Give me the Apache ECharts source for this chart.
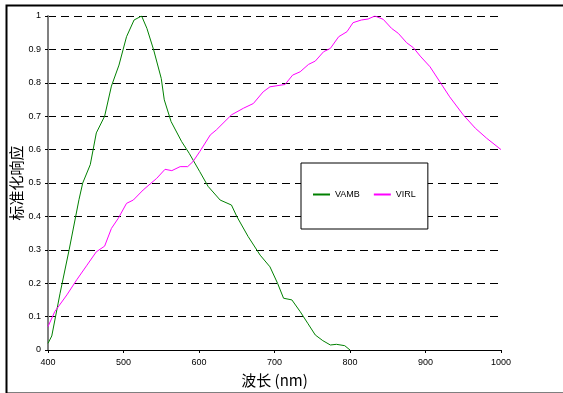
<!DOCTYPE html>
<html>
<head>
<meta charset="utf-8">
<script src="https://cdn.jsdelivr.net/npm/echarts@6/dist/echarts.min.js"></script>
<style>
html,body{margin:0;padding:0;background:#fff;}
#chart{width:563px;height:393px;}
</style>
</head>
<body>
<div id="chart"></div>
<script>
// Wavelength (nm) / normalized response pairs
const vambWavelength = [400, 405, 416, 428, 441, 446, 456, 464, 475, 484, 494, 504, 514, 524, 531, 540, 550, 554, 563, 577, 587, 601, 612, 628, 643, 650, 665, 681, 694, 704, 712, 723, 734, 744, 754, 764, 774, 782, 793, 800];
const vambValues     = [0.02, 0.042, 0.17, 0.30, 0.45, 0.50, 0.555, 0.65, 0.70, 0.79, 0.853, 0.938, 0.988, 1.0, 0.963, 0.898, 0.813, 0.749, 0.684, 0.624, 0.589, 0.534, 0.49, 0.449, 0.434, 0.40, 0.34, 0.284, 0.249, 0.20, 0.155, 0.15, 0.115, 0.08, 0.045, 0.028, 0.015, 0.017, 0.013, 0.0];
const virlWavelength = [400, 409, 425, 438, 451, 464, 475, 484, 493, 504, 513, 526, 544, 555, 564, 575, 585, 592, 601, 615, 623, 643, 659, 672, 685, 694, 714, 724, 734, 745, 754, 765, 774, 785, 796, 804, 815, 824, 833, 844, 855, 864, 875, 884, 893, 906, 919, 932, 950, 966, 981, 1000];
const virlValues     = [0.07, 0.115, 0.165, 0.21, 0.252, 0.294, 0.311, 0.364, 0.394, 0.439, 0.449, 0.479, 0.514, 0.541, 0.537, 0.549, 0.549, 0.564, 0.594, 0.644, 0.659, 0.704, 0.724, 0.738, 0.773, 0.788, 0.795, 0.823, 0.833, 0.855, 0.865, 0.893, 0.903, 0.938, 0.953, 0.98, 0.988, 0.991, 1.0, 0.99, 0.963, 0.948, 0.92, 0.905, 0.88, 0.848, 0.803, 0.758, 0.704, 0.664, 0.634, 0.6];
const seriesNames = ['VAMB', 'VIRL'];
const xTitle = '波长 (nm)';
const yTitle = '标准化响应';

const zip = (xs, ys) => xs.map((x, i) => [x, ys[i]]);
const chart = echarts.init(document.getElementById('chart'), null, {renderer: 'canvas'});
const font = 'Liberation Sans, Arial, sans-serif';
chart.setOption({
  animation: false,
  backgroundColor: '#fff',
  grid: {left: 48, right: 62, top: 16, bottom: 43, containLabel: false, outerBoundsMode: 'none'},
  legend: {
    data: seriesNames,
    left: 301, top: 163,
    padding: [27, 12, 30, 12],
    itemGap: 14,
    itemWidth: 17, itemHeight: 2,
    icon: 'rect',
    borderColor: '#000', borderWidth: 1, borderRadius: 0,
    backgroundColor: '#fff',
    textStyle: {fontFamily: font, fontSize: 9, color: '#000'},
    z: 10
  },
  xAxis: {
    type: 'value', min: 400, max: 1000, interval: 100,
    name: xTitle, nameLocation: 'middle', nameGap: 23,
    nameTextStyle: {fontFamily: 'Noto Sans CJK SC, sans-serif', fontSize: 15, color: '#000'},
    axisLine: {lineStyle: {color: '#000', width: 1}},
    axisTick: {show: true, length: 3, inside: false, lineStyle: {color: '#000'}},
    axisLabel: {fontFamily: font, fontSize: 9, color: '#000', margin: 8, formatter: v => String(v)},
    splitLine: {show: false}
  },
  yAxis: {
    type: 'value', min: 0, max: 1, interval: 0.1,
    name: yTitle, nameLocation: 'middle', nameGap: 24, nameRotate: 90, nameMoveOverlap: false,
    nameTextStyle: {fontFamily: 'Noto Sans CJK SC, sans-serif', fontSize: 15, color: '#000'},
    axisLine: {show: true, lineStyle: {color: '#808080', width: 2}},
    axisTick: {show: true, length: 3, lineStyle: {color: '#000'}},
    axisLabel: {fontFamily: font, fontSize: 9, color: '#000', margin: 7,
      formatter: v => (Math.round(v * 10) / 10).toString()},
    splitLine: {show: true, lineStyle: {color: '#000', width: 1, type: [8, 5]}}
  },
  series: [
    {name: seriesNames[0], type: 'line', data: zip(vambWavelength, vambValues),
     showSymbol: false, symbol: 'none', lineStyle: {color: '#008000', width: 1}, itemStyle: {color: '#008000'}, z: 3},
    {name: seriesNames[1], type: 'line', data: zip(virlWavelength, virlValues),
     showSymbol: false, symbol: 'none', lineStyle: {color: '#ff00ff', width: 1}, itemStyle: {color: '#ff00ff'}, z: 3}
  ],
  graphic: [
    {type: 'rect', left: 4, top: 3, shape: {width: 620, height: 388},
     style: {fill: 'none', stroke: '#000', lineWidth: 2}, silent: true, z: 100}
  ]
});
</script>
</body>
</html>
